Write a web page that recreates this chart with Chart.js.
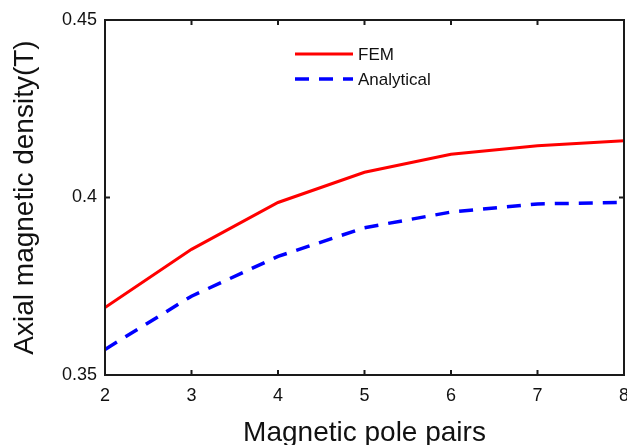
<!DOCTYPE html>
<html>
<head>
<meta charset="utf-8">
<script src="https://cdn.jsdelivr.net/npm/chart.js@4.4.1/dist/chart.umd.min.js"></script>
<style>
  html, body { margin: 0; padding: 0; background: #fff; overflow: hidden; width: 627px; height: 445px; }
  #wrap { position: relative; width: 627px; height: 460px; }
</style>
</head>
<body>
<div id="wrap"><canvas id="c" width="627" height="460"></canvas></div>
<script>
const polePairs = [2, 3, 4, 5, 6, 7, 8];
const femValues = [0.3690, 0.3854, 0.3986, 0.4071, 0.4122, 0.4146, 0.4160];
const analyticalValues = [0.3572, 0.3722, 0.3834, 0.3915, 0.3959, 0.3982, 0.3986];
const xTicks = [2, 3, 4, 5, 6, 7, 8];
const yTicks = [0.35, 0.4, 0.45];
const yTickLabels = ['0.35', '0.4', '0.45'];
const seriesNames = ['FEM', 'Analytical'];
const xTitle = 'Magnetic pole pairs';
const yTitle = 'Axial magnetic density(T)';

const FONT = "'Liberation Sans', Arial, sans-serif";
const AXIS = '#1a1a1a';

const frameTicks = {
  id: 'frameTicks',
  afterDraw(chart) {
    const { ctx, chartArea: a, scales: { x, y } } = chart;
    ctx.save();
    ctx.strokeStyle = AXIS;
    ctx.lineWidth = 2;
    ctx.strokeRect(a.left, a.top, a.right - a.left, a.bottom - a.top);
    const L = 5;
    ctx.beginPath();
    xTicks.forEach(v => {
      const px = x.getPixelForValue(v);
      ctx.moveTo(px, a.bottom); ctx.lineTo(px, a.bottom - L);
      ctx.moveTo(px, a.top); ctx.lineTo(px, a.top + L);
    });
    yTicks.forEach(v => {
      const py = y.getPixelForValue(v);
      ctx.moveTo(a.left, py); ctx.lineTo(a.left + L, py);
      ctx.moveTo(a.right, py); ctx.lineTo(a.right - L, py);
    });
    ctx.stroke();
    ctx.restore();
  }
};

const innerLegend = {
  id: 'innerLegend',
  afterDraw(chart) {
    const { ctx } = chart;
    const x0 = 295, x1 = 353, tx = 358;
    const rows = [54, 79];
    ctx.save();
    chart.data.datasets.forEach((ds, i) => {
      const yy = rows[i];
      ctx.beginPath();
      ctx.strokeStyle = ds.borderColor;
      ctx.lineWidth = ds.borderWidth;
      ctx.setLineDash(ds.borderDash || []);
      ctx.moveTo(x0, yy); ctx.lineTo(x1, yy);
      ctx.stroke();
      ctx.setLineDash([]);
      ctx.fillStyle = '#111';
      ctx.font = '17px ' + FONT;
      ctx.textBaseline = 'middle';
      ctx.textAlign = 'left';
      ctx.fillText(ds.label, tx, yy + 1);
    });
    ctx.restore();
  }
};

new Chart(document.getElementById('c'), {
  type: 'line',
  data: {
    datasets: [
      {
        label: seriesNames[0],
        data: polePairs.map((p, i) => ({ x: p, y: femValues[i] })),
        borderColor: '#ff0000',
        borderWidth: 3,
        pointRadius: 0,
        tension: 0,
        fill: false
      },
      {
        label: seriesNames[1],
        data: polePairs.map((p, i) => ({ x: p, y: analyticalValues[i] })),
        borderColor: '#0000ff',
        borderWidth: 3.5,
        borderDash: [14, 10],
        pointRadius: 0,
        tension: 0,
        fill: false
      }
    ]
  },
  options: {
    responsive: false,
    animation: false,
    devicePixelRatio: 1,
    layout: { padding: { left: 0, top: 20, right: 3, bottom: 0 } },
    plugins: { legend: { display: false }, tooltip: { enabled: false } },
    scales: {
      x: {
        type: 'linear',
        min: 2, max: 8,
        afterBuildTicks: s => { s.ticks = xTicks.map(v => ({ value: v })); },
        afterFit: s => { s.height = 85; s.paddingLeft = 0; s.paddingRight = 0; },
        grid: { display: false, drawTicks: false },
        border: { display: false },
        ticks: { color: '#111', font: { family: FONT, size: 18 }, padding: 10, maxRotation: 0, autoSkip: false,
                 callback: v => String(v) },
        title: { display: true, text: xTitle, color: '#111', font: { family: FONT, size: 28 }, padding: { top: 0, bottom: 10 } }
      },
      y: {
        type: 'linear',
        min: 0.35, max: 0.45,
        afterBuildTicks: s => { s.ticks = yTicks.map(v => ({ value: v })); },
        afterFit: s => { s.width = 105; s.paddingTop = 0; s.paddingBottom = 0; },
        grid: { display: false, drawTicks: false },
        border: { display: false },
        ticks: { color: '#111', font: { family: FONT, size: 18 }, padding: 8, autoSkip: false,
                 callback: (v) => { const k = yTicks.findIndex(t => Math.abs(t - v) < 1e-9); return k >= 0 ? yTickLabels[k] : ''; } },
        title: { display: true, text: yTitle, color: '#111', font: { family: FONT, size: 28 }, padding: { top: 8, bottom: 0 } }
      }
    }
  },
  plugins: [frameTicks, innerLegend]
});
</script>
</body>
</html>
